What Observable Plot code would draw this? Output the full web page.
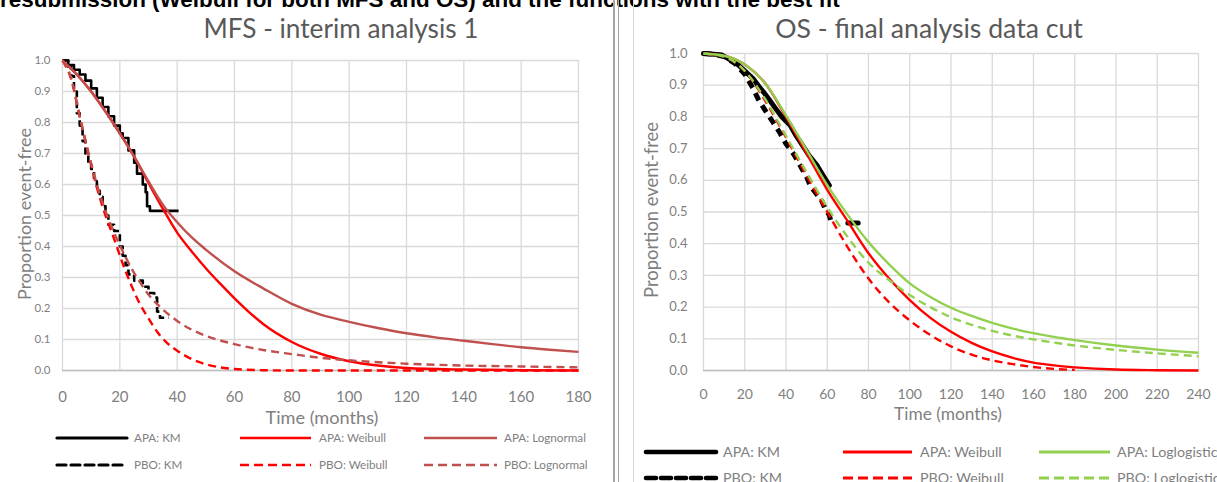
<!DOCTYPE html>
<html>
<head>
<meta charset="utf-8">
<script src="https://cdn.jsdelivr.net/npm/d3@7"></script>
<script src="https://cdn.jsdelivr.net/npm/@observablehq/plot@0.6"></script>
<style>
  html, body { margin: 0; padding: 0; background: #fff; }
  #page { position: relative; width: 1217px; height: 482px; overflow: hidden; font-family: Lato, "Open Sans", sans-serif; }
  .abs { position: absolute; white-space: nowrap; line-height: 1; }
  .vline { position: absolute; top: 0; height: 482px; }
</style>
</head>
<body>
<div id="page"></div>
<script>
// ---------------- DATA ----------------
const pageTitle = "resubmission (Weibull for both MFS and OS) and the functions with the best fit";
const mfsTitle = "MFS - interim analysis 1";
const osTitle = "OS - final analysis data cut";
const yAxisTitle = "Proportion event-free";
const xAxisTitle = "Time (months)";

const mfsXTicks = [0, 20, 40, 60, 80, 100, 120, 140, 160, 180];
const osXTicks = [0, 20, 40, 60, 80, 100, 120, 140, 160, 180, 200, 220, 240];
const yTicks = [0, 0.1, 0.2, 0.3, 0.4, 0.5, 0.6, 0.7, 0.8, 0.9, 1.0];

// MFS – interim analysis 1  [month, proportion event-free]
const mfsApaKM = [[0,1.0],[2,0.985],[4,0.97],[6,0.955],[8,0.935],[10,0.91],[12,0.88],[14,0.85],[16,0.82],[18,0.79],[20,0.765],[21,0.75],[23,0.71],[25,0.67],[26,0.635],[28,0.6],[29,0.575],[29.5,0.53],[30.5,0.515],[40.5,0.515]];
const mfsPboKM = [[0,1.0],[2,0.98],[3,0.95],[4,0.9],[5,0.83],[6,0.79],[7,0.74],[8,0.7],[9,0.67],[10,0.65],[11,0.61],[12,0.58],[13,0.56],[14,0.53],[15,0.5],[16,0.47],[18,0.45],[20,0.4],[21,0.37],[22,0.34],[23,0.31],[25,0.29],[28,0.27],[30,0.25],[32,0.235],[33,0.19],[34,0.17],[37,0.17]];
const mfsApaWeibull = [[0,1.0],[5,0.955],[10,0.9],[15,0.835],[20,0.765],[25,0.69],[30,0.605],[35,0.522],[40,0.445],[45,0.385],[50,0.33],[55,0.28],[60,0.233],[70,0.15],[80,0.092],[90,0.054],[100,0.03],[110,0.016],[120,0.008],[140,0.003],[160,0.001],[180,0.0]];
const mfsPboWeibull = [[0,1.0],[3,0.94],[6,0.82],[9,0.7],[12,0.59],[15,0.5],[18,0.425],[21,0.345],[24,0.275],[27,0.215],[30,0.168],[33,0.125],[36,0.093],[40,0.064],[45,0.037],[50,0.02],[55,0.01],[60,0.005],[70,0.001],[80,0.0],[180,0.0]];
const mfsApaLognormal = [[0,1.0],[5,0.955],[10,0.9],[15,0.835],[20,0.765],[25,0.69],[30,0.61],[35,0.535],[40,0.478],[45,0.43],[50,0.39],[60,0.32],[70,0.265],[80,0.215],[90,0.18],[100,0.157],[110,0.137],[120,0.12],[130,0.107],[140,0.096],[150,0.085],[160,0.075],[170,0.067],[180,0.06]];
const mfsPboLognormal = [[0,1.0],[3,0.945],[6,0.82],[9,0.705],[12,0.6],[15,0.515],[18,0.445],[21,0.385],[24,0.33],[27,0.285],[30,0.245],[35,0.197],[40,0.16],[45,0.132],[50,0.112],[60,0.085],[70,0.066],[80,0.053],[90,0.041],[100,0.033],[120,0.022],[140,0.016],[160,0.013],[180,0.01]];

// OS – final analysis data cut
const osApaKM = [[0,1.0],[5,0.998],[9,0.995],[13,0.98],[17,0.963],[20,0.945],[24,0.921],[27,0.895],[29,0.879],[32,0.853],[35,0.826],[38,0.8],[42,0.774],[45,0.74],[48,0.71],[51,0.68],[55,0.647],[58,0.615],[61,0.584],[65,NaN],[70,0.465],[75,0.465]];
const osPboKM = [[0,1.0],[5,0.998],[10,0.99],[15,0.97],[20,0.935],[24,0.89],[27,0.85],[30,0.82],[34,0.78],[37,0.75],[40,0.715],[44,0.68],[47,0.645],[50,0.61],[52,0.58],[55,0.555],[57,0.54],[59,0.51],[61,0.49],[62,0.465]];
const osApaWeibull = [[0,1.0],[10,0.993],[20,0.965],[30,0.905],[40,0.8],[50,0.685],[60,0.57],[70,0.47],[80,0.37],[90,0.29],[100,0.222],[110,0.166],[120,0.122],[130,0.087],[140,0.06],[150,0.04],[160,0.025],[170,0.016],[180,0.01],[200,0.003],[220,0.001],[240,0.0]];
const osPboWeibull = [[0,1.0],[10,0.99],[20,0.945],[30,0.85],[40,0.735],[50,0.615],[60,0.5],[70,0.388],[80,0.29],[90,0.215],[100,0.158],[110,0.112],[120,0.076],[130,0.05],[140,0.032],[150,0.02],[160,0.011],[170,0.005],[180,0.002]];
const osApaLoglogistic = [[0,1.0],[10,0.993],[20,0.965],[30,0.905],[40,0.805],[50,0.695],[60,0.585],[70,0.49],[80,0.405],[90,0.335],[100,0.275],[110,0.232],[120,0.198],[130,0.172],[140,0.15],[150,0.132],[160,0.118],[170,0.106],[180,0.096],[200,0.079],[220,0.066],[240,0.056]];
const osPboLoglogistic = [[0,1.0],[10,0.99],[20,0.945],[30,0.855],[40,0.74],[50,0.625],[60,0.515],[70,0.42],[80,0.34],[90,0.285],[100,0.238],[110,0.2],[120,0.168],[130,0.144],[140,0.125],[150,0.11],[160,0.098],[170,0.088],[180,0.079],[200,0.065],[220,0.054],[240,0.045]];

const mfsLegendLabels = [["APA: KM", "APA: Weibull", "APA: Lognormal"], ["PBO: KM", "PBO: Weibull", "PBO: Lognormal"]];
const osLegendLabels = [["APA: KM", "APA: Weibull", "APA: Loglogistic"], ["PBO: KM", "PBO: Weibull", "PBO: Loglogistic"]];

// ---------------- STYLE ----------------
const RED = "#ff0000", BROWN = "#c0504d", GREEN = "#92d050", BLACK = "#000000";
const GRID = "#d9d9d9", AXIS = "#bfbfbf", TXT = "#7f7f7f", TTL = "#595959";
const FONT = "Lato, 'Open Sans', sans-serif";

const page = document.getElementById("page");

function measure(text, family, weight) {
  const c = document.createElement("canvas").getContext("2d");
  c.font = `${weight} 100px ${family}`;
  return c.measureText(text).width / 100;
}
function fitSize(text, family, weight, w) { return w / measure(text, family, weight); }

function addText(text, {x, y, anchor = "middle", size, family = FONT, weight = "normal", color = TXT}) {
  const d = document.createElement("div");
  d.className = "abs";
  d.textContent = text;
  d.style.fontFamily = family;
  d.style.fontWeight = weight;
  d.style.fontSize = size + "px";
  d.style.color = color;
  d.style.left = x + "px";
  d.style.top = y + "px";
  const tx = anchor === "middle" ? "-50%" : anchor === "end" ? "-100%" : "0";
  d.style.transform = `translate(${tx}, -50%)`;
  page.appendChild(d);
  return d;
}

// top cut-off title (bold)
{
  const fam = "'Liberation Sans', Arial, sans-serif";
  const size = fitSize(pageTitle, fam, "bold", 840);
  const d = document.createElement("div");
  d.className = "abs";
  d.textContent = pageTitle;
  d.style.fontFamily = fam;
  d.style.fontWeight = "bold";
  d.style.fontSize = size + "px";
  d.style.color = "#000";
  d.style.left = "0px";
  d.style.top = (9 - 0.905 * size) + "px";
  page.appendChild(d);
}

// divider lines
[[613, 1.6, "#a6a6a6"], [617.5, 1.6, "#a6a6a6"], [633, 1, "#d9d9d9"]].forEach(([x, w, c]) => {
  const v = document.createElement("div");
  v.className = "vline";
  v.style.left = x + "px";
  v.style.width = w + "px";
  v.style.background = c;
  page.appendChild(v);
});

function panel({left, top, width, height, ml, mr, mt, mb, xTicks, xDomain, yPad, xPad, xFont, yFont, series}) {
  const chart = Plot.plot({
    width, height,
    marginLeft: ml, marginRight: mr, marginTop: mt, marginBottom: mb,
    x: {domain: xDomain},
    y: {domain: [0, 1]},
    style: {fontFamily: FONT, color: TXT, background: "transparent", overflow: "visible"},
    marks: [
      Plot.gridX(xTicks, {stroke: GRID, strokeOpacity: 1, strokeWidth: 1.3}),
      Plot.gridY(yTicks, {stroke: GRID, strokeOpacity: 1, strokeWidth: 1.3}),
      Plot.ruleY([0], {stroke: AXIS, strokeWidth: 1.5}),
      Plot.axisX(xTicks, {tickSize: 0, tickPadding: xPad, fontSize: xFont, label: null, tickFormat: d => String(d)}),
      Plot.axisY(yTicks, {tickSize: 0, tickPadding: yPad, fontSize: yFont, label: null, tickFormat: d3.format(".1f")}),
      ...series.map(s => Plot.line(s.data, {
        x: d => d[0], y: d => d[1],
        stroke: s.stroke, strokeWidth: s.width,
        strokeDasharray: s.dash || null,
        strokeLinecap: s.cap || "butt",
        strokeLinejoin: "round",
        curve: s.curve || "monotone-x"
      }))
    ]
  });
  chart.style.position = "absolute";
  chart.style.left = left + "px";
  chart.style.top = top + "px";
  page.appendChild(chart);
}

// ---------- MFS panel ----------
const mfsStyles = [
  {data: mfsApaKM, stroke: BLACK, width: 2.6, curve: "step-after"},
  {data: mfsPboKM, stroke: BLACK, width: 2.6, dash: "7,4", curve: "step-after"},
  {data: mfsApaWeibull, stroke: RED, width: 2.4},
  {data: mfsPboWeibull, stroke: RED, width: 2.4, dash: "8,5"},
  {data: mfsApaLognormal, stroke: BROWN, width: 2.4},
  {data: mfsPboLognormal, stroke: BROWN, width: 2.4, dash: "8,5"}
];
panel({left: 0, top: 45, width: 610, height: 380, ml: 62, mr: 32, mt: 15, mb: 55,
  xTicks: mfsXTicks, xDomain: [0, 180], yPad: 12, xPad: 21, xFont: 15, yFont: 11.5, series: mfsStyles});

// ---------- OS panel ----------
const osStyles = [
  {data: osApaKM, stroke: BLACK, width: 5, curve: "linear", cap: "round"},
  {data: osPboKM, stroke: BLACK, width: 5, dash: "8,6", curve: "linear"},
  {data: osApaWeibull, stroke: RED, width: 2.4},
  {data: osPboWeibull, stroke: RED, width: 2.4, dash: "8,5"},
  {data: osApaLoglogistic, stroke: GREEN, width: 2.4},
  {data: osPboLoglogistic, stroke: GREEN, width: 2.4, dash: "8,5"}
];
panel({left: 634, top: 40, width: 583, height: 380, ml: 69, mr: 19, mt: 13, mb: 50,
  xTicks: osXTicks, xDomain: [0, 240], yPad: 16, xPad: 19, xFont: 14, yFont: 13, series: osStyles});

// ---------- titles & axis titles ----------
addText(mfsTitle, {x: 341, y: 28, size: fitSize(mfsTitle, FONT, "normal", 275), color: TTL});
addText(osTitle, {x: 929, y: 28, size: fitSize(osTitle, FONT, "normal", 308), color: TTL});

addText(xAxisTitle, {x: 322, y: 417, size: fitSize(xAxisTitle, FONT, "normal", 113)});
addText(xAxisTitle, {x: 948, y: 414, size: fitSize(xAxisTitle, FONT, "normal", 108)});

// rotated y-axis titles
function yTitle(x, y, w) {
  const size = fitSize(yAxisTitle, FONT, "normal", w);
  const d = document.createElement("div");
  d.className = "abs";
  d.textContent = yAxisTitle;
  d.style.fontFamily = FONT;
  d.style.fontSize = size + "px";
  d.style.color = TXT;
  d.style.left = x + "px";
  d.style.top = y + "px";
  d.style.transformOrigin = "0 0";
  d.style.transform = "rotate(-90deg) translate(-50%, -50%)";
  page.appendChild(d);
}
yTitle(24, 214, 172);
yTitle(651, 210, 176);

// ---------- legends ----------
function legend(rows, cfg) {
  const styles = cfg.styles;
  rows.forEach((row, ri) => {
    row.forEach((label, ci) => {
      const s = styles[ci * 2 + ri];
      const [x1, x2, tx] = cfg.cols[ci];
      const y = cfg.rowsY[ri];
      const svg = d3.create("svg")
        .attr("width", x2 - x1 + 8).attr("height", 12)
        .style("position", "absolute")
        .style("left", (x1 - 4) + "px")
        .style("top", (y - 6) + "px");
      svg.append("line")
        .attr("x1", 4).attr("x2", x2 - x1 + 4).attr("y1", 6).attr("y2", 6)
        .attr("stroke", s.stroke)
        .attr("stroke-width", s.stroke === BLACK ? cfg.kmWidth : cfg.width)
        .attr("stroke-dasharray", s.dash ? cfg.dash : null)
        .attr("stroke-linecap", s.stroke === BLACK ? "round" : "butt");
      page.appendChild(svg.node());
      addText(label, {x: tx, y: y, anchor: "start", size: cfg.font, color: TXT});
    });
  });
}
legend(mfsLegendLabels, {
  styles: mfsStyles,
  cols: [[57, 127, 134], [240, 311, 319], [424, 497, 504]],
  rowsY: [438, 465],
  width: 2.6, kmWidth: 3.2, dash: "9,5",
  font: fitSize("APA: Lognormal", FONT, "normal", 82)
});
legend(osLegendLabels, {
  styles: osStyles,
  cols: [[646, 716, 723], [843, 912, 920], [1039, 1110, 1117]],
  rowsY: [452, 478],
  width: 2.8, kmWidth: 4.6, dash: "10,5",
  font: fitSize("APA: Weibull", FONT, "normal", 82)
});
</script>
</body>
</html>
